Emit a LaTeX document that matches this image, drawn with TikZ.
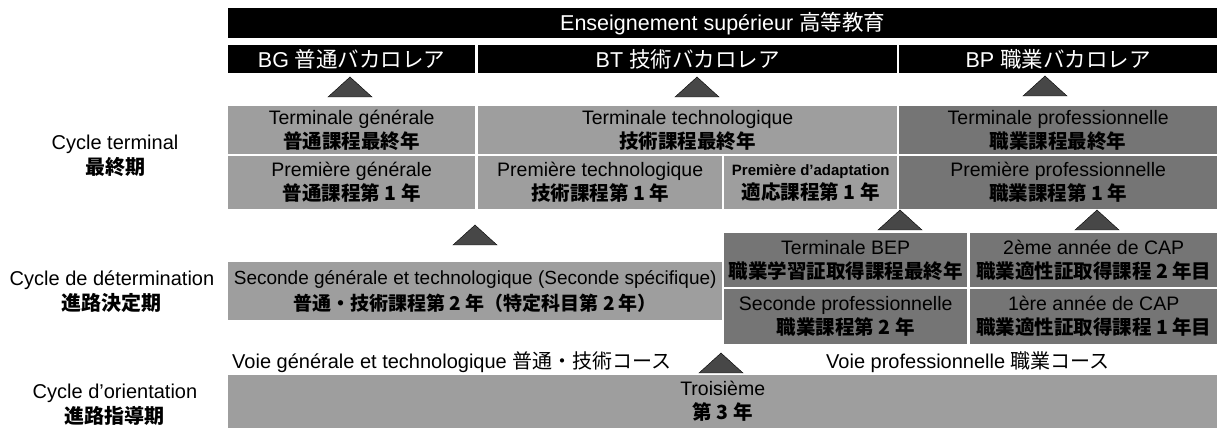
\documentclass[tikz,border=0pt]{standalone}
\usepackage{fontspec}
\setmainfont{Liberation Sans}
\newfontfamily\jp{Noto Sans CJK JP}
\newcommand{\ja}[1]{{\jp #1}}
\newcommand{\jab}[1]{{\jp\bfseries #1}}

\begin{document}
\begin{tikzpicture}[x=1pt,y=-1pt,
  bar/.style={fill=black,text=white,inner sep=0pt,anchor=north west,
              font=\fontsize{21.5}{24}\selectfont},
  box/.style={fill=black!38,inner sep=0pt,anchor=north west,align=center,
              font=\fontsize{19.5}{24}\selectfont},
  darkbox/.style={box,fill=black!54},
  stage/.style={align=center,font=\fontsize{20}{25}\selectfont},
  voie/.style={inner sep=0pt,font=\fontsize{20}{24}\selectfont},
  uptri/.pic={\filldraw[draw=black,fill=black!72] (-22,10) -- (0,-10) -- (22,10) -- cycle;}]
  \useasboundingbox (0,0) rectangle (1219,430);

  % baccalaureats
  \node[bar, minimum width=989pt, minimum height=30pt] (sup) at (228,8)
        {Enseignement supérieur \ja{高等教育}};
  \node[bar, minimum width=247pt, minimum height=28pt] (BG) at (228,45)
        {BG \ja{普通バカロレア}};
  \node[bar, minimum width=419pt, minimum height=28pt] (BT) at (478,45)
        {BT \ja{技術バカロレア}};
  \node[bar, minimum width=318pt, minimum height=28pt] (BP) at (899,45)
        {BP \ja{職業バカロレア}};

  \pic at (350,87)  {uptri};
  \pic at (697,87)  {uptri};
  \pic at (1045,86) {uptri};

  % cycle terminal
  \node[box, minimum width=247pt, minimum height=48pt] (TG) at (228,106)
        {Terminale générale\\\jab{普通課程最終年}};
  \node[box, minimum width=419pt, minimum height=48pt] (TT) at (478,106)
        {Terminale technologique\\\jab{技術課程最終年}};
  \node[darkbox, minimum width=318pt, minimum height=48pt] (TP) at (899,106)
        {Terminale professionnelle\\\jab{職業課程最終年}};
  \node[box, minimum width=247pt, minimum height=53pt] (PG) at (228,156)
        {Première générale\\\jab{普通課程第 1 年}};
  \node[box, minimum width=244pt, minimum height=53pt] (PT) at (478,156)
        {Première technologique\\\jab{技術課程第 1 年}};
  \node[box, minimum width=173pt, minimum height=53pt] (PA) at (724,156)
        {{\fontsize{15}{24}\selectfont\bfseries Première d'adaptation}\\\jab{適応課程第 1 年}};
  \node[darkbox, minimum width=318pt, minimum height=53pt] (PP) at (899,156)
        {Première professionnelle\\\jab{職業課程第 1 年}};

  \pic at (475,235)  {uptri};
  \pic at (900,220)  {uptri};
  \pic at (1097,220) {uptri};

  % cycle de determination
  \node[box, minimum width=494pt, minimum height=58pt,
        font=\fontsize{19}{26}\selectfont] (SGT) at (228,262)
        {Seconde générale et technologique (Seconde spécifique)\\\jab{普通・技術課程第 2 年（特定科目第 2 年）}};
  \node[darkbox, minimum width=243pt, minimum height=54pt] (TBEP) at (724,233)
        {Terminale BEP\\\jab{職業学習証取得課程最終年}};
  \node[darkbox, minimum width=243pt, minimum height=55pt] (SP) at (724,289)
        {Seconde professionnelle\\\jab{職業課程第 2 年}};
  \node[darkbox, minimum width=247pt, minimum height=54pt] (CAPb) at (970,233)
        {2ème année de CAP\\\jab{職業適性証取得課程 2 年目}};
  \node[darkbox, minimum width=247pt, minimum height=55pt] (CAPa) at (970,289)
        {1ère année de CAP\\\jab{職業適性証取得課程 1 年目}};

  % cycle d'orientation
  \node[voie, anchor=west] (voieGT) at (232,362)
        {Voie générale et technologique \ja{普通・技術コース}};
  \pic at (721,363) {uptri};
  \node[voie] (voiePro) at (968,362) {Voie professionnelle \ja{職業コース}};
  \node[box, minimum width=989pt, minimum height=53pt] (trois) at (228,375)
        {Troisième\\\jab{第 3 年}};

  % stages
  \node[stage] (cterm) at (115,156) {Cycle terminal\\\jab{最終期}};
  \node[stage] (cdet)  at (112,292) {Cycle de détermination\\\jab{進路決定期}};
  \node[stage] (cori)  at (115,405) {Cycle d'orientation\\\jab{進路指導期}};
\end{tikzpicture}
\end{document}
